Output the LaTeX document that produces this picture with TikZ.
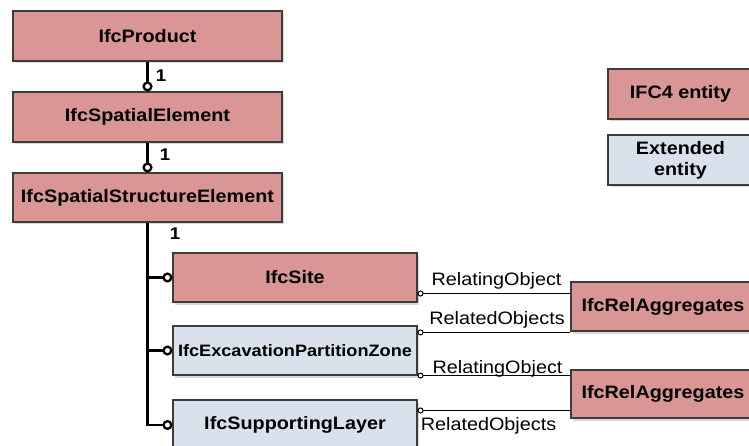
\documentclass[tikz,border=0pt]{standalone}
\usepackage{fontspec}
\setmainfont{Liberation Sans}[FakeStretch=1.1]
\usetikzlibrary{arrows.meta,shadows}
\definecolor{ifcpink}{RGB}{217,150,148}
\definecolor{extblue}{RGB}{217,225,237}
\definecolor{boxline}{RGB}{60,60,60}
\tikzset{
  entity/.style={draw=boxline, line width=1.1pt, inner sep=0pt, align=center,
    font=\bfseries\fontsize{18}{21}\selectfont,
    drop shadow={shadow xshift=2pt, shadow yshift=-2.5pt, fill=black!25, opacity=0.6}},
  ifcbox/.style={entity, fill=ifcpink},
  extbox/.style={entity, fill=extblue},
  trunk/.style={line width=2.5pt, -{Circle[open,length=10pt,width=10pt,line width=2.3pt]}},
  relline/.style={line width=1pt, {Circle[open,length=6pt,width=6pt,line width=1pt]}-},
  rolelabel/.style={anchor=base, inner sep=0pt, font=\fontsize{18}{21}\selectfont},
  multlabel/.style={anchor=base, inner sep=0pt, font=\bfseries\fontsize{17}{20}\selectfont}
}
\begin{document}
\begin{tikzpicture}[x=1pt,y=-1pt]
\useasboundingbox (0,0) rectangle (749,446);

% inheritance chain
\node[ifcbox, minimum width=269pt, minimum height=50pt] (prod) at (147.5,36) {IfcProduct};
\node[ifcbox, minimum width=269pt, minimum height=50pt] (spel) at (147.5,117) {IfcSpatialElement};
\node[ifcbox, minimum width=269pt, minimum height=49pt] (sse) at (147.5,197.5) {IfcSpatialStructureElement};

% subtypes
\node[ifcbox, minimum width=244pt, minimum height=49pt] (site) at (295,277.5) {IfcSite};
\node[extbox, minimum width=244pt, minimum height=49pt,
      font=\bfseries\fontsize{16.5}{20}\selectfont] (exc) at (295,350.5) {IfcExcavationPartitionZone};
\node[extbox, minimum width=244pt, minimum height=50pt] (sup) at (295,425) {IfcSupportingLayer};

% aggregation relations
\node[ifcbox, minimum width=184pt, minimum height=49pt] (rel1) at (663,306.5) {IfcRelAggregates};
\node[ifcbox, minimum width=184pt, minimum height=48pt] (rel2) at (663,394) {IfcRelAggregates};

% legend
\node[ifcbox, minimum width=145pt, minimum height=50pt] (leg1) at (680.5,94) {IFC4 entity};
\node[extbox, minimum width=145pt, minimum height=50pt] (leg2) at (680.5,160) {Extended\\entity};

% subtype connectors
\draw[trunk] (prod.south) -- (spel.north);
\draw[trunk] (spel.south) -- (sse.north);
\draw[trunk] (sse.south) |- (site.west);
\draw[trunk] (sse.south) |- (exc.west);
\draw[trunk] (sse.south) |- (sup.west);

\node[multlabel] (m1) at (161,82) {1};
\node[multlabel] (m2) at (165,161) {1};
\node[multlabel] (m3) at (175,240) {1};

% relation connectors
\coordinate (s1) at ([yshift=9pt]site.south east);
\coordinate (s2) at ([yshift=-7pt]exc.north east);
\coordinate (s3) at (exc.south east);
\coordinate (s4) at ([yshift=-11pt]sup.north east);
\draw[relline] (s1) -- (s1 -| rel1.west);
\draw[relline] (s2) -- (s2 -| rel1.west);
\draw[relline] (s3) -- (s3 -| rel2.west);
\draw[relline] (s4) -- (s4 -| rel2.west);

\node[rolelabel] (r1) at (496.5,285) {RelatingObject};
\node[rolelabel] (r2) at (497,324) {RelatedObjects};
\node[rolelabel] (r3) at (497.5,373) {RelatingObject};
\node[rolelabel] (r4) at (488.5,430) {RelatedObjects};
\end{tikzpicture}
\end{document}
